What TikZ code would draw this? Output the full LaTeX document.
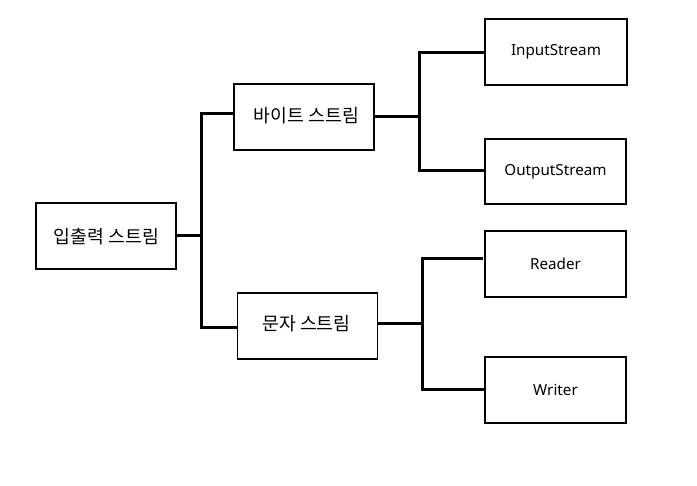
\documentclass[tikz,border=0pt]{standalone}
\usepackage{fontspec}
\setmainfont{Noto Sans}
\newfontfamily\krfont{Noto Sans CJK KR}
\begin{document}
\begin{tikzpicture}[x=1pt,y=-1pt,
  box/.style={draw=black,line width=1.8pt,rectangle,inner sep=0pt,minimum width=140pt,minimum height=66pt},
  kr/.style={font=\krfont\fontsize{18.3}{22}\selectfont},
  lat/.style={font=\fontsize{15.2}{18}\selectfont},
  lbl/.style={inner sep=0pt},
  conn/.style={draw=black,line width=3pt,line cap=rect}]
\useasboundingbox[fill=white] (0,0) rectangle (697,486);
% boxes
\node[box] (io) at (106,236) {};
\node[box] (byte) at (304,117) {};
\node[box] (char) at (307.5,326) {};
\node[box,lat,minimum width=142pt] (in) at (556,52) {InputStream};
\node[box,lat,minimum width=141pt,minimum height=65pt] (out) at (555.5,171.5) {OutputStream};
\node[box,lat,minimum width=141pt] (rd) at (555.5,264) {Reader};
\node[box,lat,minimum width=141pt] (wr) at (555.5,390) {Writer};
% labels
\node[lbl,kr] (iot) at (106.5,237) {입출력 스트림};
\node[lbl,kr] (bytet) at (306.5,116) {바이트 스트림};
\node[lbl,kr] (chart) at (306.5,324) {문자 스트림};
% junction coordinates
\coordinate (j1) at (201,236);
\coordinate (j1t) at (201,114);
\coordinate (j1b) at (201,328);
\coordinate (j2) at (419,117);
\coordinate (j2t) at (419,53);
\coordinate (j2b) at (419,171);
\coordinate (j3) at (422,324);
\coordinate (j3t) at (422,259);
\coordinate (j3b) at (422,390);
\coordinate (rdend) at (481,259);
% connectors
\draw[conn] (io.east) -- (j1);
\draw[conn] (j1t) -- (j1b);
\draw[conn] (j1t) -- (j1t -| byte.west);
\draw[conn] (j1b) -- (j1b -| char.west);
\draw[conn] (byte.east) -- (j2);
\draw[conn] (j2t) -- (j2b);
\draw[conn] (j2t) -- (j2t -| in.west);
\draw[conn] (j2b) -- (j2b -| out.west);
\draw[conn] (char.east |- j3) -- (j3);
\draw[conn] (j3t) -- (j3b);
\draw[conn] (j3t) -- (rdend);
\draw[conn] (j3b) -- (j3b -| wr.west);
\end{tikzpicture}
\end{document}
